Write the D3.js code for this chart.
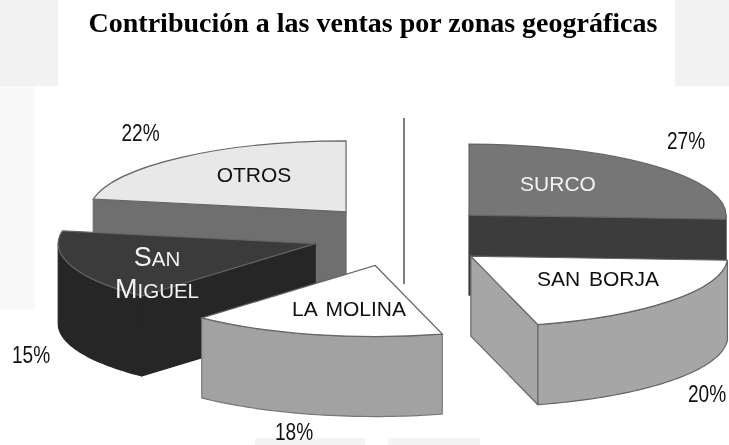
<!DOCTYPE html>
<html>
<head>
<meta charset="utf-8">
<script src="https://cdn.jsdelivr.net/npm/d3@7"></script>
<style>
  html, body { margin: 0; padding: 0; background: #fff; }
  svg { display: block; filter: blur(0.4px); }
  .pct { font-family: "Liberation Sans", Arial, sans-serif; font-size: 23px; fill: #111; }
  .name { font-family: "Liberation Sans", Arial, sans-serif; font-size: 21px; }
  .title { font-family: "Liberation Serif", serif; font-weight: bold; font-size: 28px; fill: #000; }
</style>
</head>
<body>
<svg id="chart" width="729" height="445"></svg>
<script>
// data, clockwise from twelve o'clock
const zones = ['SURCO', 'SAN BORJA', 'LA MOLINA', 'SAN MIGUEL', 'OTROS'];
const shares = [27, 20, 18, 15, 22];

const WIDTH = 729;
const HEIGHT = 445;

// the pie is a flattened disc, each slice pulled out along its own bisector
const CENTER_X = 402.5;
const CENTER_Y = 236;
const RADIUS_X = 257;
const RADIUS_Y = 71;
const EXPLODE_X = 90;
const EXPLODE_Y = 31;
const DEPTH_PX = 80;
const PCT_SQUEEZE = 0.83;

// the 3d view squeezes the front of the disc a little, degrees in -> degrees on screen
const viewAngle = d3.scaleLinear()
  .domain([0, 95, 166, 229, 282, 360])
  .range([0, 93, 165, 222, 280, 360]);
const DEG = Math.PI / 180;

const TOP_COLORS = ['#767676', '#ffffff', '#ffffff', '#3b3b3b', '#e8e8e8'];
const WALL_COLORS = ['#3c3c3c', '#a6a6a6', '#a2a2a2', '#262626', '#6f6f6f'];
const WALL_STROKES = ['#3c3c3c', '#666666', '#777777', '#262626', '#6f6f6f'];
const NAME_COLORS = ['#f2f2f2', '#111', '#111', '#f2f2f2', '#111'];

// drawn back to front, index into zones
const PAINT_ORDER = [4, 0, 3, 2, 1];

const NAME_POS = [[558, 191], [598, 286], [349, 316], [0, 0], [254, 182]];
const PCT_POS = [[686, 149], [707, 402], [294, 440], [31, 363], [140.5, 141]];

const svg = d3.select('#chart');

const xScale = d3.scaleLinear().domain([-1, 1]).range([-RADIUS_X, RADIUS_X]);
const yScale = d3.scaleLinear().domain([-1, 1]).range([-RADIUS_Y, RADIUS_Y]);

const pieLayout = d3.pie().sort(null).value(d => d)(shares);

const arcGen = d3.arc().innerRadius(0).outerRadius(RADIUS_X);
const wallLine = d3.line();

function rimPoint(angle, drop) {
  return [xScale(Math.sin(angle)), yScale(-Math.cos(angle)) + drop];
}

// closed band under the rim between two angles
function rimBand(a0, a1) {
  const n = Math.max(2, Math.ceil(Math.abs(a1 - a0) * 40));
  const angles = d3.range(n + 1).map(i => a0 + (a1 - a0) * i / n);
  const top = angles.map(a => rimPoint(a, 0));
  const bottom = angles.slice().reverse().map(a => rimPoint(a, DEPTH_PX));
  return wallLine(top.concat(bottom)) + 'Z';
}

// cut face from the apex out to the rim at one angle
function cutFace(angle) {
  const p = rimPoint(angle, 0);
  const q = rimPoint(angle, DEPTH_PX);
  return wallLine([[0, 0], p, q, [0, DEPTH_PX]]) + 'Z';
}

// page backdrop, pale watermark showing around the white picture
const backdrop = [
  [0, 0, WIDTH, HEIGHT, '#ffffff'],
  [0, 0, 58, 86, '#f2f2f2'],
  [675, 0, 54, 86, '#f2f2f2'],
  [0, 86, 35, 224, '#f9f9f9'],
  [255, 438, 110, 7, '#f4f4f4'],
  [388, 438, 92, 7, '#f4f4f4']
];
svg.selectAll('rect.backdrop')
  .data(backdrop)
  .join('rect')
  .attr('class', 'backdrop')
  .attr('x', d => d[0])
  .attr('y', d => d[1])
  .attr('width', d => d[2])
  .attr('height', d => d[3])
  .attr('fill', d => d[4]);

svg.append('text')
  .attr('class', 'title')
  .attr('x', 373)
  .attr('y', 32)
  .attr('text-anchor', 'middle')
  .text('Contribución a las ventas por zonas geográficas');

// thin vertical rule in the gap between the slices
svg.append('line')
  .attr('x1', 404).attr('x2', 404)
  .attr('y1', 118).attr('y2', 284)
  .attr('stroke', '#7d7d7d')
  .attr('stroke-width', 2);

PAINT_ORDER.forEach(i => {
  const d = pieLayout[i];
  const mid = (d.startAngle + d.endAngle) / 2;
  const start = viewAngle(d.startAngle / DEG) * DEG;
  const end = viewAngle(d.endAngle / DEG) * DEG;
  const g = svg.append('g')
    .attr('transform', `translate(${CENTER_X + EXPLODE_X * Math.sin(mid)},${CENTER_Y - EXPLODE_Y * Math.cos(mid)})`);

  const wall = path => g.append('path')
    .attr('d', path)
    .attr('fill', WALL_COLORS[i])
    .attr('stroke', WALL_STROKES[i])
    .attr('stroke-width', 1.2)
    .attr('stroke-linejoin', 'round');

  // only the cut faces turned towards the viewer get drawn
  if (Math.sin(start) < -0.01) wall(cutFace(start));
  if (Math.sin(end) > 0.01) wall(cutFace(end));

  const from = Math.max(start, Math.PI / 2);
  const to = Math.min(end, Math.PI * 1.5);
  if (to > from) wall(rimBand(from, to));

  g.append('path')
    .attr('d', arcGen({ startAngle: start, endAngle: end }))
    .attr('transform', `scale(1,${RADIUS_Y / RADIUS_X})`)
    .attr('fill', TOP_COLORS[i])
    .attr('stroke', '#666')
    .attr('stroke-width', 1.2)
    .attr('vector-effect', 'non-scaling-stroke');
});

zones.forEach((name, i) => {
  if (name === 'SAN MIGUEL') return;
  svg.append('text')
    .attr('class', 'name')
    .attr('x', NAME_POS[i][0])
    .attr('y', NAME_POS[i][1])
    .attr('text-anchor', 'middle')
    .attr('word-spacing', 3)
    .attr('fill', NAME_COLORS[i])
    .text(name);
});

// small caps on two lines
[['S', 'AN', 157, 266], ['M', 'IGUEL', 157, 298]].forEach(([big, rest, x, y]) => {
  const t = svg.append('text')
    .attr('class', 'name')
    .attr('x', x)
    .attr('y', y)
    .attr('text-anchor', 'middle')
    .attr('fill', '#f2f2f2');
  t.append('tspan').style('font-size', '27px').text(big);
  t.append('tspan').style('font-size', '20.5px').text(rest);
});

// the digits in the source are tall and narrow
shares.forEach((v, i) => {
  svg.append('text')
    .attr('class', 'pct')
    .attr('transform', `translate(${PCT_POS[i][0]},${PCT_POS[i][1]}) scale(${PCT_SQUEEZE},1)`)
    .attr('text-anchor', 'middle')
    .text(d3.format('.0%')(v / 100));
});
</script>
</body>
</html>
